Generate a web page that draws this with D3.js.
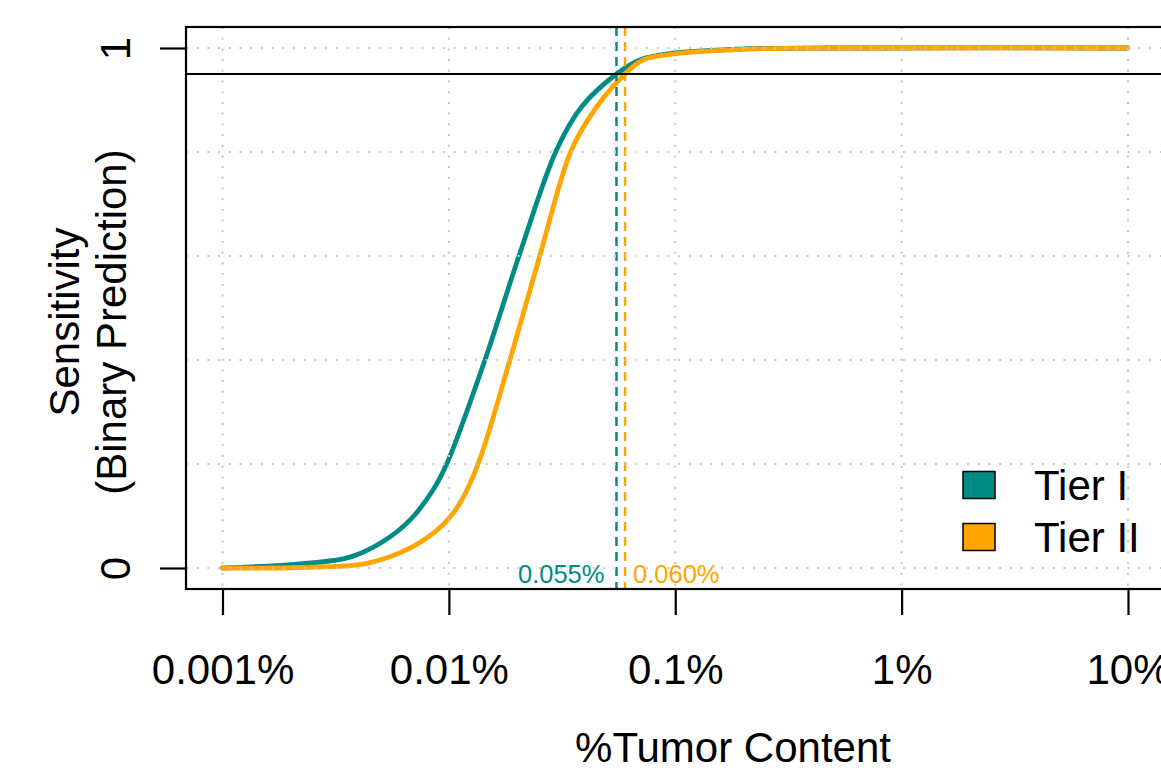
<!DOCTYPE html>
<html>
<head>
<meta charset="utf-8">
<script src="https://cdn.jsdelivr.net/npm/d3@7"></script>
<style>
body { margin: 0; background: #fff; }
svg { display: block; }
text { font-family: "Liberation Sans", Arial, Helvetica, sans-serif; }
</style>
</head>
<body>
<div id="plot"></div>
<script>
// values (x in %, y = sensitivity)
var tier1Pct  = [0.001, 0.0022, 0.00366, 0.00512, 0.00673, 0.00851, 0.00978, 0.01443, 0.0204, 0.0299, 0.0386, 0.055, 0.0698, 0.0977, 0.193, 0.5, 10];
var tier1Sens = [0, 0.008, 0.021, 0.051, 0.092, 0.15, 0.20, 0.40, 0.60, 0.804, 0.887, 0.95, 0.977, 0.990, 0.998, 1.0, 1.0];
var tier2Pct  = [0.001, 0.0022, 0.00434, 0.00673, 0.00942, 0.0112, 0.01346, 0.0186, 0.0252, 0.0348, 0.045, 0.060, 0.0719, 0.105, 0.214, 0.5, 10];
var tier2Sens = [0, 0.001, 0.009, 0.038, 0.083, 0.125, 0.20, 0.40, 0.60, 0.804, 0.887, 0.95, 0.977, 0.990, 0.998, 1.0, 1.0];

var seriesNames = ["Tier I", "Tier II"];
var thresholds = [0.055, 0.060];
var thresholdLabels = ["0.055%", "0.060%"];
var sensLevel = 0.95;

var xTicks = [0.001, 0.01, 0.1, 1, 10];
var xTickLabels = ["0.001%", "0.01%", "0.1%", "1%", "10%"];
var yTicks = [0, 1];
var yGrid = [0, 0.2, 0.4, 0.6, 0.8, 1];

var colors = ["#008b84", "#ffa500"];

// plot region (right edge is outside the window, as in the reference)
var box = { left: 186, right: 1280, top: 27, bottom: 589 };
var W = 1161, H = 768;

var svg = d3.select("#plot")
    .append("svg")
    .attr("width", W)
    .attr("height", H);

var x = d3.scaleLog()
    .domain([0.001, 10])
    .range([222.5, 1128]);

var y = d3.scaleLinear()
    .domain([0, 1])
    .range([568, 48]);

svg.append("clipPath").attr("id", "clip")
    .append("rect")
    .attr("x", box.left)
    .attr("y", box.top)
    .attr("width", box.right - box.left)
    .attr("height", box.bottom - box.top);

var plot = svg.append("g").attr("clip-path", "url(#clip)");

// curves
var line = d3.line()
    .x(function(d) { return x(d[0]); })
    .y(function(d) { return y(d[1]); })
    .curve(d3.curveCatmullRom.alpha(0.5));

var series = [d3.zip(tier1Pct, tier1Sens), d3.zip(tier2Pct, tier2Sens)];
series.forEach(function(s, i) {
    plot.append("path")
        .datum(s)
        .attr("d", line)
        .attr("fill", "none")
        .attr("stroke", colors[i])
        .attr("stroke-width", 4.8)
        .attr("stroke-linejoin", "round")
        .attr("stroke-linecap", "round");
});

// dashed threshold lines
thresholds.forEach(function(t, i) {
    plot.append("line")
        .attr("x1", x(t)).attr("x2", x(t))
        .attr("y1", box.top).attr("y2", box.bottom)
        .attr("stroke", colors[i])
        .attr("stroke-width", 2.5)
        .attr("stroke-dasharray", "9,6");
});

// threshold labels
svg.append("text")
    .attr("x", x(thresholds[0]) - 12)
    .attr("y", 582.5)
    .attr("text-anchor", "end")
    .attr("fill", colors[0])
    .style("font-size", "25.5px")
    .text(thresholdLabels[0]);
svg.append("text")
    .attr("x", x(thresholds[1]) + 8)
    .attr("y", 582.5)
    .attr("text-anchor", "start")
    .attr("fill", colors[1])
    .style("font-size", "25.5px")
    .text(thresholdLabels[1]);

// 95% sensitivity line
plot.append("line")
    .attr("x1", box.left).attr("x2", box.right)
    .attr("y1", y(sensLevel)).attr("y2", y(sensLevel))
    .attr("stroke", "#000")
    .attr("stroke-width", 2.2);

// dotted grid (drawn on top, like the reference)
var grid = plot.append("g")
    .attr("stroke", "#c8c8c8")
    .attr("stroke-width", 2.2)
    .attr("stroke-dasharray", "2,8.7");
grid.selectAll(".gx").data(xTicks).enter().append("line")
    .attr("x1", function(d) { return x(d); })
    .attr("x2", function(d) { return x(d); })
    .attr("y1", box.top).attr("y2", box.bottom);
grid.selectAll(".gy").data(yGrid).enter().append("line")
    .attr("x1", box.left).attr("x2", box.right)
    .attr("y1", function(d) { return y(d); })
    .attr("y2", function(d) { return y(d); });

// box
svg.append("rect")
    .attr("x", box.left).attr("y", box.top)
    .attr("width", box.right - box.left)
    .attr("height", box.bottom - box.top)
    .attr("fill", "none")
    .attr("stroke", "#000")
    .attr("stroke-width", 2.2);

// x axis
var xAxis = svg.append("g")
    .attr("transform", "translate(0," + box.bottom + ")")
    .call(d3.axisBottom(x)
        .tickValues(xTicks)
        .tickFormat(function(d, i) { return xTickLabels[i]; })
        .tickSize(26));
xAxis.select(".domain").remove();
xAxis.selectAll(".tick line").attr("stroke", "#000").attr("stroke-width", 2.2);
xAxis.selectAll(".tick text")
    .attr("fill", "#000")
    .style("font-size", "42px")
    .attr("dy", null)
    .attr("y", 95);

// y axis
var yAxis = svg.append("g")
    .attr("transform", "translate(" + box.left + ",0)")
    .call(d3.axisLeft(y)
        .tickValues(yTicks)
        .tickFormat(d3.format("d"))
        .tickSize(26));
yAxis.select(".domain").remove();
yAxis.selectAll(".tick line").attr("stroke", "#000").attr("stroke-width", 2.2);
yAxis.selectAll(".tick text")
    .attr("fill", "#000")
    .style("font-size", "42px")
    .attr("text-anchor", "middle")
    .attr("dy", null)
    .attr("x", 0)
    .attr("transform", "translate(-56,0) rotate(-90)");

// axis titles
svg.append("text")
    .attr("x", 733)
    .attr("y", 762)
    .attr("text-anchor", "middle")
    .style("font-size", "42px")
    .text("%Tumor Content");

svg.append("text")
    .attr("transform", "translate(79,322) rotate(-90)")
    .attr("text-anchor", "middle")
    .style("font-size", "42px")
    .text("Sensitivity");
svg.append("text")
    .attr("transform", "translate(126,322) rotate(-90)")
    .attr("text-anchor", "middle")
    .style("font-size", "42px")
    .text("(Binary Prediction)");

// legend
var legend = svg.append("g");
seriesNames.forEach(function(name, i) {
    var cy = 485 + i * 52;
    legend.append("rect")
        .attr("x", 963).attr("y", cy - 13.5)
        .attr("width", 32).attr("height", 27)
        .attr("fill", colors[i])
        .attr("stroke", "#000")
        .attr("stroke-width", 1.5);
    legend.append("text")
        .attr("x", 1034)
        .attr("y", cy + 15)
        .style("font-size", "42px")
        .text(name);
});
</script>
</body>
</html>
